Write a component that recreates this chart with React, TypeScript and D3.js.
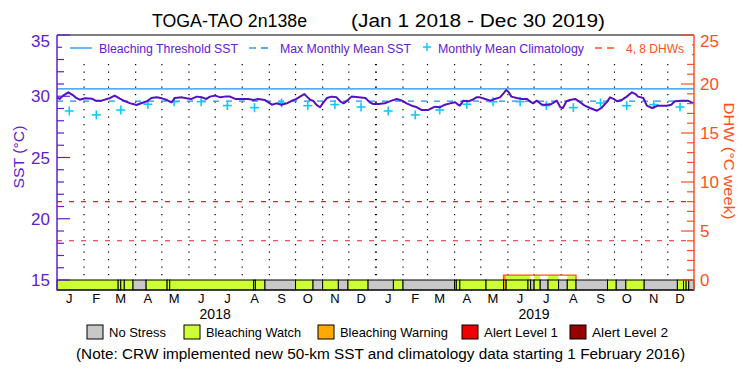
import React from 'react';
import * as d3 from 'd3';

// ---------- DATA ----------
const titleLeft = 'TOGA-TAO 2n138e';
const titleRight = '(Jan 1 2018 - Dec 30 2019)';
const startDate = Date.UTC(2018, 0, 1);
const endDate = Date.UTC(2019, 11, 31);

// Monthly mean climatology (°C), Jan..Dec
const climatology = [28.8, 28.48, 28.88, 29.35, 29.55, 29.56, 29.24, 29.07, 29.45, 29.23, 29.32, 29.12];
const maxMonthlyMean = 29.6;
const bleachingThreshold = 30.6;
const dhwLevels = [4, 8];

// [day since Jan 1 2018, SST °C]
const sstSeries: [number, number][] = [
  [0, 29.91], [3, 29.78], [7, 30.05], [13, 30.32], [19, 30.05], [22, 29.86], [26, 29.72], [32, 29.83],
  [40, 29.8], [44, 29.64], [51, 29.64], [61, 29.86], [66, 30.05], [72, 29.8], [78, 29.59], [84, 29.42],
  [87, 29.37], [91, 29.29], [97, 29.45], [103, 29.59], [108, 29.86], [114, 29.91], [120, 29.83], [126, 29.69],
  [131, 29.5], [135, 29.86], [143, 29.91], [148, 29.83], [154, 29.78], [160, 29.97], [166, 29.91], [171, 29.78],
  [175, 29.97], [181, 30.05], [187, 29.91], [192, 29.97], [198, 29.97], [204, 29.78], [209, 29.78], [219, 29.78],
  [225, 29.69], [230, 29.78], [238, 29.69], [242, 29.5], [246, 29.31], [251, 29.42], [257, 29.31], [263, 29.42],
  [269, 29.64], [274, 29.78], [280, 30.05], [283, 30.18], [286, 29.97], [290, 29.69], [293, 29.64], [297, 29.29],
  [301, 29.1], [305, 29.5], [309, 29.86], [314, 29.97], [320, 29.91], [324, 29.59], [328, 29.42], [332, 29.64],
  [337, 29.97], [345, 29.91], [353, 29.86], [358, 29.5], [362, 29.37], [368, 29.37], [375, 29.42], [383, 29.64],
  [389, 29.78], [395, 29.64], [400, 29.42], [406, 29.23], [412, 29.1], [417, 28.88], [425, 28.88], [429, 29.04],
  [433, 29.15], [438, 29.1], [444, 29.31], [450, 29.42], [456, 29.5], [459, 29.31], [461, 29.23], [465, 29.64],
  [471, 29.59], [475, 29.69], [480, 29.91], [484, 29.91], [490, 29.78], [496, 29.64], [501, 29.78], [507, 29.91],
  [511, 30.24], [514, 30.51], [517, 30.32], [520, 29.97], [526, 29.86], [532, 29.78], [538, 29.78], [541, 29.59],
  [545, 29.42], [549, 29.64], [555, 29.31], [560, 29.31], [566, 29.37], [572, 29.64], [576, 29.1], [579, 29.04],
  [583, 29.59], [587, 29.69], [593, 29.78], [599, 29.5], [604, 29.23], [610, 29.04], [618, 28.82], [623, 29.04],
  [629, 29.5], [633, 29.91], [637, 29.78], [641, 29.59], [646, 29.69], [652, 29.97], [658, 30.32], [662, 30.18],
  [665, 29.97], [671, 29.86], [675, 29.23], [681, 29.04], [688, 29.23], [698, 29.23], [703, 29.31], [707, 29.59],
  [715, 29.64], [722, 29.64], [726, 29.5], [729, 29.42],
];

// [start day, stress level] 0 = no stress, 1 = watch, 2 = warning
const stressSegments: [number, number][] = [
  [0, 1], [70, 1], [73, 1], [77, 1], [87, 0], [102, 1], [126, 1], [129, 1], [225, 1], [227, 1], [238, 0],
  [273, 1], [293, 0], [304, 1], [322, 0], [333, 1], [356, 0], [385, 1], [396, 0], [455, 1], [457, 1], [461, 1],
  [491, 1], [511, 2], [514, 1], [539, 1], [542, 0], [546, 1], [553, 0], [562, 1], [574, 0], [584, 1], [594, 0],
  [630, 1], [640, 0], [651, 1], [672, 0], [710, 1], [717, 1], [720, 1], [723, 0],
];

// [start day, DHW °C-week]
const dhwSeries: [number, number][] = [[0, 0], [511, 0.5], [594, 0]];

const monthLetters = ['J', 'F', 'M', 'A', 'M', 'J', 'J', 'A', 'S', 'O', 'N', 'D'];
const years = [2018, 2019];
const stressLevels = [
  { label: 'No Stress', color: '#c8c8c8' },
  { label: 'Bleaching Watch', color: '#ccff33' },
  { label: 'Bleaching Warning', color: '#ffaa00' },
  { label: 'Alert Level 1', color: '#f00000' },
  { label: 'Alert Level 2', color: '#960000' },
];
const topLegend = ['Bleaching Threshold SST', 'Max Monthly Mean SST', 'Monthly Mean Climatology', '4, 8 DHWs'];
const note = '(Note: CRW implemented new 50-km SST and climatology data starting 1 February 2016)';

// ---------- STYLE ----------
const PURPLE = '#6020d0';
const LINE_PURPLE = '#5510c0';
const BLUE = '#1e90ee';
const CYAN = '#10c8ff';
const ORANGE = '#ff5020';
const RED = '#e82020';
const FONT = '"Liberation Sans", "DejaVu Sans", sans-serif';

const L = 57, R = 694, T = 35, B = 290, Y0 = 280;

export default function App() {
  const x = d3.scaleUtc().domain([new Date(startDate), new Date(endDate)]).range([L, R]);
  const dayDate = (d: number) => d3.utcDay.offset(new Date(startDate), d);
  const y = d3.scaleLinear().domain([15, 35]).range([Y0, T]);
  const yd = d3.scaleLinear().domain([0, 25]).range([Y0, T]);

  const line = d3.line<[number, number]>().x(d => x(dayDate(d[0]))).y(d => y(d[1]));
  const totalDays = d3.utcDay.count(new Date(startDate), new Date(endDate));

  const segs = stressSegments.map((s, i) => ({
    start: s[0],
    end: i < stressSegments.length - 1 ? stressSegments[i + 1][0] : totalDays,
    level: s[1],
  }));

  const dhwSegs = dhwSeries.map((s, i) => ({
    start: s[0],
    end: i < dhwSeries.length - 1 ? dhwSeries[i + 1][0] : totalDays,
    v: s[1],
  })).filter(s => s.v > 0);

  const months = d3.utcMonth.range(new Date(startDate), new Date(endDate));
  const monthLines = months.slice(1);

  const sstTicks = d3.range(15, 36, 1);
  const dhwTicks = d3.range(0, 26, 1);

  return (
    <svg width={750} height={375} style={{ position: 'absolute', left: 0, top: 0, background: '#fff' }} fontFamily={FONT}>
      <rect x={0} y={0} width={750} height={375} fill="#fff" />
      {/* Title */}
      <text x={152} y={27} fontSize={18} textLength={155} lengthAdjust="spacingAndGlyphs" fill="#000">{titleLeft}</text>
      <text x={351} y={27} fontSize={18} textLength={254} lengthAdjust="spacingAndGlyphs" fill="#000">{titleRight}</text>

      {/* Month grid lines */}
      {monthLines.map((m, i) => (
        <line key={i} x1={x(m)} x2={x(m)} y1={64} y2={Y0}
          stroke="#000" strokeWidth={m.getUTCMonth() === 0 ? 2 : 1.2} strokeDasharray="1.3,6.2" />
      ))}

      {/* DHW reference lines */}
      {dhwLevels.map(v => (
        <line key={v} x1={L} x2={R} y1={yd(v)} y2={yd(v)} stroke={RED} strokeWidth={1.1} strokeDasharray="5,7" />
      ))}

      {/* Threshold & MMM */}
      <line x1={L} x2={R} y1={y(bleachingThreshold)} y2={y(bleachingThreshold)} stroke={BLUE} strokeWidth={1.3} />
      <line x1={L} x2={R} y1={y(maxMonthlyMean)} y2={y(maxMonthlyMean)} stroke={BLUE} strokeWidth={1.3} strokeDasharray="6,7" />

      {/* Climatology markers */}
      {months.map((m, i) => {
        const cx = x(d3.utcDay.offset(m, 14));
        const cy = y(climatology[m.getUTCMonth()]);
        return (
          <g key={i} stroke={CYAN} strokeWidth={1.6}>
            <line x1={cx - 4.5} x2={cx + 4.5} y1={cy} y2={cy} />
            <line x1={cx} x2={cx} y1={cy - 4.5} y2={cy + 4.5} />
          </g>
        );
      })}

      {/* SST line */}
      <path d={line(sstSeries) || ''} fill="none" stroke={LINE_PURPLE} strokeWidth={2} strokeLinejoin="round" />

      {/* DHW fill strip */}
      {dhwSegs.map((d, i) => (
        <g key={i}>
          {segs.filter(s => s.end > d.start && s.start < d.end).map((s, j) => {
            const a = Math.max(s.start, d.start), b = Math.min(s.end, d.end);
            return (
              <rect key={j} x={x(dayDate(a))} width={x(dayDate(b)) - x(dayDate(a))} y={yd(d.v)} height={Y0 - yd(d.v)}
                fill={s.level >= 1 ? stressLevels[s.level].color : '#fff'} />
            );
          })}
          <path d={`M${x(dayDate(d.start))},${Y0}V${yd(d.v)}H${x(dayDate(d.end))}V${Y0}`} fill="none" stroke={ORANGE} strokeWidth={1.3} />
        </g>
      ))}

      {/* Stress bar */}
      {segs.map((s, i) => (
        <rect key={i} x={x(dayDate(s.start))} width={x(dayDate(s.end)) - x(dayDate(s.start))} y={Y0} height={B - Y0}
          fill={stressLevels[s.level].color} stroke="#000" strokeWidth={1} />
      ))}

      {/* Frame */}
      <line x1={L} x2={R} y1={T} y2={T} stroke="#000" strokeWidth={1.2} />
      <line x1={L} x2={R} y1={B} y2={B} stroke="#000" strokeWidth={1.2} />
      <line x1={L} x2={L} y1={T} y2={B} stroke={PURPLE} strokeWidth={1.5} />
      <line x1={R} x2={R} y1={T} y2={B} stroke={ORANGE} strokeWidth={1.5} />

      {/* Left axis */}
      {sstTicks.map(v => (
        <line key={v} x1={L} x2={L + (v % 5 === 0 ? 13 : 7)} y1={y(v)} y2={y(v)} stroke={PURPLE} strokeWidth={1.2} />
      ))}
      {sstTicks.filter(v => v % 5 === 0).map(v => (
        <text key={v} x={50} y={v === 35 ? y(v) + 12 : y(v) + 6} fontSize={17} textAnchor="end" fill={PURPLE}>{v}</text>
      ))}
      <text transform="translate(24,157) rotate(-90)" fontSize={15} textAnchor="middle" textLength={63} lengthAdjust="spacingAndGlyphs" fill={PURPLE}>SST (°C)</text>

      {/* Right axis */}
      {dhwTicks.map(v => (
        <line key={v} x1={R - (v % 5 === 0 ? 13 : 7)} x2={R} y1={yd(v)} y2={yd(v)} stroke={ORANGE} strokeWidth={1.2} />
      ))}
      {dhwTicks.filter(v => v % 5 === 0).map(v => (
        <text key={v} x={700} y={v === 25 ? yd(v) + 12 : yd(v) + 6} fontSize={17} fill={ORANGE}>{v}</text>
      ))}
      <text transform="translate(724,161) rotate(90)" fontSize={15} textAnchor="middle" textLength={117} lengthAdjust="spacingAndGlyphs" fill={ORANGE}>DHW (°C week)</text>

      {/* Top legend */}
      <rect x={62} y={40} width={630} height={18} fill="#fff" />
      <line x1={70} x2={92} y1={48} y2={48} stroke={BLUE} strokeWidth={1.3} />
      <text x={99} y={52.5} fontSize={12} textLength={139} lengthAdjust="spacingAndGlyphs" fill={PURPLE}>{topLegend[0]}</text>
      <line x1={249} x2={273} y1={48} y2={48} stroke={BLUE} strokeWidth={1.3} strokeDasharray="7,5" />
      <text x={280} y={52.5} fontSize={12} textLength={131} lengthAdjust="spacingAndGlyphs" fill={PURPLE}>{topLegend[1]}</text>
      <g stroke={CYAN} strokeWidth={1.5}>
        <line x1={423} x2={431} y1={47} y2={47} />
        <line x1={427} x2={427} y1={43} y2={51} />
      </g>
      <text x={438} y={52.5} fontSize={12} textLength={146} lengthAdjust="spacingAndGlyphs" fill={PURPLE}>{topLegend[2]}</text>
      <line x1={595} x2={619} y1={48} y2={48} stroke={ORANGE} strokeWidth={1.3} strokeDasharray="7,5" />
      <text x={626} y={52.5} fontSize={12} textLength={58} lengthAdjust="spacingAndGlyphs" fill={ORANGE}>{topLegend[3]}</text>

      {/* X axis labels */}
      {months.map((m, i) => (
        <text key={i} x={x(d3.utcDay.offset(m, 14))} y={303} fontSize={13} textAnchor="middle" fill="#000">{monthLetters[m.getUTCMonth()]}</text>
      ))}
      {years.map(yr => (
        <text key={yr} x={x(new Date(Date.UTC(yr, 6, 1)))} y={319} fontSize={14} textAnchor="middle" fill="#000">{yr}</text>
      ))}

      {/* Stress legend */}
      {stressLevels.map((s, i) => {
        const bx = [87, 184, 318, 462, 570][i];
        const tl = [57, 95, 108, 74, 76][i];
        return (
          <g key={s.label}>
            <rect x={bx} y={325} width={16} height={14} fill={s.color} stroke="#000" strokeWidth={1} />
            <text x={bx + 22} y={337} fontSize={13} textLength={tl} lengthAdjust="spacingAndGlyphs" fill="#000">{s.label}</text>
          </g>
        );
      })}
      <text x={76} y={359} fontSize={14} textLength={609} lengthAdjust="spacingAndGlyphs" fill="#000">{note}</text>
    </svg>
  );
}
